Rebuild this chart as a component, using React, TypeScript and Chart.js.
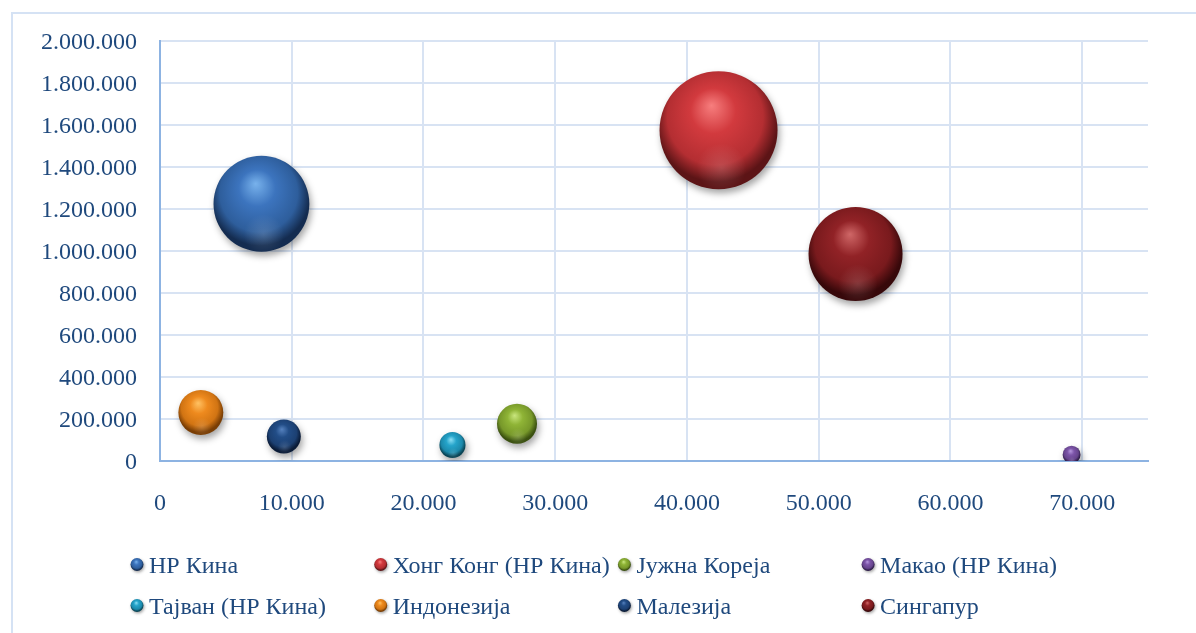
import { useEffect, useRef } from 'react';
import { Chart, registerables } from 'chart.js';

Chart.register(...registerables);

// Countries (one bubble series each), in legend order
const countries = [
  'НР Кина',
  'Хонг Конг (НР Кина)',
  'Јужна Кореја',
  'Макао (НР Кина)',
  'Тајван (НР Кина)',
  'Индонезија',
  'Малезија',
  'Сингапур',
];

// Horizontal value of each bubble
const xValues = [7700, 42400, 27100, 69200, 22200, 3100, 9400, 52800];
// Vertical value of each bubble
const yValues = [1225000, 1575000, 177000, 30000, 76000, 231000, 117000, 986000];
// Bubble size (third dimension, relative)
const bubbleSizes = [66, 100, 11.5, 2.3, 4.9, 14.5, 8.3, 63.5];

// Axis ticks
const xTickValues = [0, 10000, 20000, 30000, 40000, 50000, 60000, 70000];
const yTickValues = [0, 200000, 400000, 600000, 800000, 1000000, 1200000, 1400000, 1600000, 1800000, 2000000];

// Sphere shading per series: highlight, body, edge
const sphereColors = [
  { hi: '#78B2EC', mid: '#3C74BE', low: '#2E5E9C', dark: '#142C50' },
  { hi: '#F77E7E', mid: '#D23A3E', low: '#B42E32', dark: '#5C1416' },
  { hi: '#C9E67E', mid: '#8FB436', low: '#77982A', dark: '#3B5110' },
  { hi: '#B697DE', mid: '#7C54A8', low: '#66448C', dark: '#2E1C48' },
  { hi: '#8CDFF5', mid: '#25A4CA', low: '#1C89AB', dark: '#0A4556' },
  { hi: '#FFC263', mid: '#EE8A1E', low: '#D17413', dark: '#7A3E04' },
  { hi: '#5581BE', mid: '#224D87', low: '#1C4072', dark: '#0A1B37' },
  { hi: '#CF6767', mid: '#912226', low: '#791A1D', dark: '#37080A' },
];

const TEXT_COLOR = '#1F497D';
const FONT_FAMILY = "'Liberation Serif', 'Times New Roman', serif";
const FONT_SIZE = 24;
const MAX_RADIUS = 59;
const maxSize = Math.max(...bubbleSizes);

const formatNumber = (n: number) =>
  String(Math.round(n)).replace(/\B(?=(\d{3})+(?!\d))/g, '.');

// Sphere body: light source upper-left, darkest along the lower rim
function sphereGradient(ctx: CanvasRenderingContext2D, cx: number, cy: number, r: number, c: typeof sphereColors[number]) {
  const g = ctx.createRadialGradient(cx - 0.12 * r, cy - 0.42 * r, 0, cx - 0.03 * r, cy - 0.14 * r, 1.16 * r);
  g.addColorStop(0, c.hi);
  g.addColorStop(0.33, c.mid);
  g.addColorStop(0.7, c.low);
  g.addColorStop(0.9, c.dark);
  g.addColorStop(1, c.dark);
  return g;
}

// Extra lighting on top of each sphere: soft reflected glow near the bottom
function sphereOverlay(ctx: CanvasRenderingContext2D, cx: number, cy: number, r: number) {
  if (![cx, cy, r].every(Number.isFinite) || r <= 0) return;
  ctx.save();
  ctx.beginPath();
  ctx.arc(cx, cy, r, 0, Math.PI * 2);
  ctx.clip();
  const gx = cx + 0.05 * r;
  const gy = cy + 0.64 * r;
  const glow = ctx.createRadialGradient(gx, gy, 0, gx, gy, 0.42 * r);
  glow.addColorStop(0, 'rgba(255,255,255,0.14)');
  glow.addColorStop(1, 'rgba(255,255,255,0)');
  ctx.fillStyle = glow;
  ctx.fillRect(cx - r, cy - r, 2 * r, 2 * r);
  ctx.restore();
}

const sphereShading = {
  id: 'sphereShading',
  beforeDatasetsDraw(chart: any) {
    const ctx = chart.ctx;
    ctx.save();
    ctx.shadowColor = 'rgba(0,0,0,0.36)';
    ctx.shadowBlur = 7;
    ctx.shadowOffsetX = 2;
    ctx.shadowOffsetY = 4;
  },
  afterDatasetsDraw(chart: any) {
    const ctx = chart.ctx;
    ctx.restore();
    const area = chart.chartArea;
    ctx.save();
    ctx.beginPath();
    ctx.rect(area.left, area.top, area.right - area.left, area.bottom - area.top);
    ctx.clip();
    chart.data.datasets.forEach((_: any, i: number) => {
      const meta = chart.getDatasetMeta(i);
      meta.data.forEach((el: any) => {
        sphereOverlay(ctx, el.x, el.y, el.options.radius);
      });
    });
    ctx.restore();
  },
};

const frameAndLegend = {
  id: 'frameAndLegend',
  beforeDraw(chart: any) {
    const ctx = chart.ctx;
    ctx.save();
    ctx.fillStyle = '#FFFFFF';
    ctx.fillRect(0, 0, chart.width, chart.height);
    ctx.strokeStyle = '#D5E2F4';
    ctx.lineWidth = 2;
    ctx.strokeRect(12, 13, chart.width + 40, chart.height + 40);
    ctx.restore();
  },
  afterDraw(chart: any) {
    const ctx = chart.ctx;
    ctx.save();
    ctx.font = `${FONT_SIZE}px ${FONT_FAMILY}`;
    ctx.textBaseline = 'alphabetic';
    ctx.textAlign = 'left';
    chart.data.datasets.forEach((ds: any, i: number) => {
      const col = i % 4;
      const row = Math.floor(i / 4);
      const mx = 137 + col * 243.7;
      const baseline = 573 + row * 41;
      const my = baseline - 8.5;
      const r = 6.5;
      ctx.save();
      ctx.shadowColor = 'rgba(0,0,0,0.35)';
      ctx.shadowBlur = 3;
      ctx.shadowOffsetX = 1;
      ctx.shadowOffsetY = 1.5;
      ctx.beginPath();
      ctx.arc(mx, my, r, 0, Math.PI * 2);
      ctx.fillStyle = sphereGradient(ctx, mx, my, r, sphereColors[i]);
      ctx.fill();
      ctx.restore();
      ctx.fillStyle = TEXT_COLOR;
      ctx.fillText(ds.label, mx + 12, baseline);
    });
    ctx.restore();
  },
};

export default function App() {
  const canvasRef = useRef<HTMLCanvasElement | null>(null);

  useEffect(() => {
    const canvas = canvasRef.current;
    if (!canvas) return;

    const datasets = countries.map((name, i) => ({
      label: name,
      data: [
        {
          x: xValues[i],
          y: yValues[i],
          r: MAX_RADIUS * Math.sqrt(bubbleSizes[i] / maxSize),
        },
      ],
      clip: 0,
      borderWidth: 0,
      hoverBorderWidth: 0,
      backgroundColor: (ctx: any) => {
        const c = sphereColors[i];
        if (ctx.type !== 'data' || !ctx.raw) return c.mid;
        const chart = ctx.chart;
        const raw = ctx.raw;
        const xs = chart.scales && chart.scales.x;
        const ys = chart.scales && chart.scales.y;
        if (!xs || !ys) return c.mid;
        const cx = xs.getPixelForValue(raw.x);
        const cy = ys.getPixelForValue(raw.y);
        if (![cx, cy, raw.r].every(Number.isFinite)) return c.mid;
        return sphereGradient(chart.ctx, cx, cy, raw.r, c);
      },
    }));

    const tickFont = { family: FONT_FAMILY, size: FONT_SIZE };

    const chart = new Chart(canvas, {
      type: 'bubble',
      data: { datasets },
      options: {
        responsive: false,
        animation: false,
        devicePixelRatio: 1,
        layout: { autoPadding: false, padding: { top: 41, right: 48, left: 0, bottom: 0 } },
        plugins: {
          legend: { display: false },
          tooltip: { enabled: false },
        },
        scales: {
          x: {
            type: 'linear',
            min: 0,
            max: 75000,
            afterBuildTicks: (scale: any) => {
              scale.ticks = xTickValues.map((v) => ({ value: v }));
            },
            afterFit: (scale: any) => {
              scale.height = 172;
            },
            grid: { color: '#D8E3F3', lineWidth: 2, drawTicks: false },
            border: { color: '#8DB3E2', width: 2 },
            ticks: {
              font: tickFont,
              color: TEXT_COLOR,
              padding: 28,
              maxRotation: 0,
              autoSkip: false,
              callback: (v: any) => formatNumber(Number(v)),
            },
          },
          y: {
            type: 'linear',
            min: 0,
            max: 2000000,
            afterBuildTicks: (scale: any) => {
              scale.ticks = yTickValues.map((v) => ({ value: v }));
            },
            afterFit: (scale: any) => {
              scale.width = 160;
            },
            grid: { color: '#D8E3F3', lineWidth: 2, drawTicks: false },
            border: { color: '#8DB3E2', width: 2 },
            ticks: {
              font: tickFont,
              color: TEXT_COLOR,
              padding: 23,
              autoSkip: false,
              labelOffset: 2,
              callback: (v: any) => formatNumber(Number(v)),
            },
          },
        },
      },
      plugins: [frameAndLegend, sphereShading],
    } as any);

    return () => chart.destroy();
  }, []);

  return (
    <div style={{ position: 'absolute', left: 0, top: 0, width: 1196, height: 633, background: '#fff' }}>
      <canvas ref={canvasRef} width={1196} height={633} style={{ display: 'block' }} />
    </div>
  );
}
